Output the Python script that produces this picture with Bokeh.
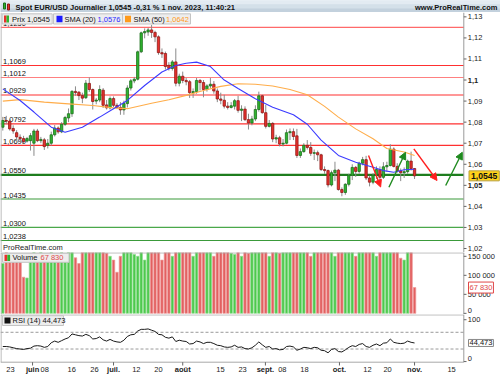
from bokeh.plotting import figure
from bokeh.layouts import column
from bokeh.models import Range1d, Span, Label, BoxAnnotation, Arrow, NormalHead, ColumnDataSource
from bokeh.embed import file_html
from bokeh.resources import INLINE

FONT = "Liberation Sans"
FS = "7.5px"

# ---------------- data (daily, 18 May 2023 -> 1 Nov 2023, weekdays) ----------------
opens = [1.0776, 1.0808, 1.0805, 1.0770, 1.0750, 1.0728, 1.0722, 1.0710, 1.0712, 1.0700,
         1.0758, 1.0712, 1.0716, 1.0690, 1.0700, 1.0740, 1.0772, 1.0754, 1.0790, 1.0820,
         1.0840, 1.0946, 1.0942, 1.0926, 1.0916, 1.0984, 1.0955, 1.0900, 1.0905, 1.0952,
         1.0882, 1.0868, 1.0912, 1.0880, 1.0870, 1.0858, 1.0888, 1.0962, 1.0996, 1.1004,
         1.1134, 1.1224, 1.1228, 1.1238, 1.1226, 1.1205, 1.1130, 1.1126, 1.1070, 1.1055,
         1.1086, 1.0985, 1.1018, 1.0998, 1.0992, 1.0940, 1.0945, 1.0998, 1.0988, 1.0955,
         1.0972, 1.0980, 1.0948, 1.0910, 1.0904, 1.0876, 1.0870, 1.0876, 1.0902, 1.0856,
         1.0862, 1.0812, 1.0796, 1.0815, 1.0860, 1.0925, 1.0845, 1.0780, 1.0794, 1.0720,
         1.0726, 1.0696, 1.0700, 1.0750, 1.0755, 1.0735, 1.0642, 1.0660, 1.0690, 1.0680,
         1.0652, 1.0655, 1.0645, 1.0575, 1.0570, 1.0502, 1.0560, 1.0572, 1.0480, 1.0466,
         1.0505, 1.0548, 1.0585, 1.0566, 1.0605, 1.0622, 1.0535, 1.0515, 1.0548, 1.0575,
         1.0538, 1.0588, 1.0594, 1.0672, 1.0590, 1.0568, 1.0560, 1.0565, 1.0615, 1.0580]
highs = [1.0825, 1.0830, 1.0815, 1.0785, 1.0762, 1.0742, 1.0735, 1.0730, 1.0748, 1.0768,
         1.0768, 1.0730, 1.0725, 1.0720, 1.0755, 1.0786, 1.0780, 1.0800, 1.0830, 1.0865,
         1.0952, 1.0970, 1.0948, 1.0940, 1.1000, 1.1012, 1.0960, 1.0915, 1.0975, 1.0962,
         1.0905, 1.0922, 1.0922, 1.0890, 1.0895, 1.0902, 1.0975, 1.1005, 1.1015, 1.1140,
         1.1230, 1.1245, 1.1248, 1.1262, 1.1234, 1.1212, 1.1150, 1.1135, 1.1085, 1.1095,
         1.1150, 1.1030, 1.1040, 1.1010, 1.1000, 1.0960, 1.1010, 1.1005, 1.1000, 1.0980,
         1.1010, 1.0995, 1.0960, 1.0940, 1.0930, 1.0895, 1.0895, 1.0910, 1.0925, 1.0880,
         1.0875, 1.0840, 1.0830, 1.0880, 1.0945, 1.0930, 1.0882, 1.0810, 1.0800, 1.0740,
         1.0735, 1.0720, 1.0765, 1.0770, 1.0770, 1.0768, 1.0675, 1.0700, 1.0715, 1.0705,
         1.0670, 1.0665, 1.0650, 1.0590, 1.0575, 1.0570, 1.0612, 1.0578, 1.0490, 1.0510,
         1.0555, 1.0600, 1.0592, 1.0612, 1.0635, 1.0640, 1.0545, 1.0558, 1.0590, 1.0590,
         1.0610, 1.0612, 1.0695, 1.0680, 1.0605, 1.0580, 1.0585, 1.0622, 1.0660, 1.0582]
lows = [1.0760, 1.0790, 1.0760, 1.0745, 1.0715, 1.0708, 1.0700, 1.0703, 1.0665, 1.0640,
        1.0705, 1.0700, 1.0668, 1.0675, 1.0688, 1.0732, 1.0745, 1.0748, 1.0782, 1.0800,
        1.0825, 1.0925, 1.0905, 1.0890, 1.0910, 1.0944, 1.0860, 1.0885, 1.0895, 1.0868,
        1.0860, 1.0860, 1.0872, 1.0862, 1.0835, 1.0835, 1.0870, 1.0950, 1.0985, 1.0998,
        1.1128, 1.1198, 1.1210, 1.1200, 1.1180, 1.1120, 1.1105, 1.1050, 1.1045, 1.1045,
        1.0970, 1.0970, 1.0985, 1.0975, 1.0915, 1.0915, 1.0935, 1.0950, 1.0918, 1.0945,
        1.0960, 1.0935, 1.0895, 1.0885, 1.0865, 1.0860, 1.0865, 1.0860, 1.0845, 1.0805,
        1.0805, 1.0765, 1.0785, 1.0805, 1.0850, 1.0840, 1.0770, 1.0775, 1.0705, 1.0700,
        1.0685, 1.0685, 1.0695, 1.0715, 1.0715, 1.0630, 1.0630, 1.0655, 1.0670, 1.0640,
        1.0620, 1.0615, 1.0568, 1.0555, 1.0490, 1.0495, 1.0520, 1.0475, 1.0448, 1.0455,
        1.0495, 1.0525, 1.0540, 1.0555, 1.0595, 1.0525, 1.0495, 1.0505, 1.0530, 1.0525,
        1.0530, 1.0565, 1.0590, 1.0585, 1.0560, 1.0520, 1.0535, 1.0555, 1.0570, 1.0530]
closes = [1.0808, 1.0805, 1.0768, 1.0758, 1.0730, 1.0722, 1.0708, 1.0722, 1.0736, 1.0758,
          1.0712, 1.0718, 1.0684, 1.0700, 1.0740, 1.0772, 1.0754, 1.0790, 1.0822, 1.0840,
          1.0946, 1.0940, 1.0926, 1.0914, 1.0985, 1.0955, 1.0898, 1.0905, 1.0955, 1.0880,
          1.0868, 1.0912, 1.0880, 1.0870, 1.0858, 1.0888, 1.0962, 1.0996, 1.1004, 1.1134,
          1.1224, 1.1230, 1.1238, 1.1226, 1.1205, 1.1130, 1.1124, 1.1064, 1.1055, 1.1086,
          1.0985, 1.1018, 1.0998, 1.0992, 1.0940, 1.0945, 1.0998, 1.0988, 1.0955, 1.0972,
          1.0980, 1.0948, 1.0910, 1.0904, 1.0876, 1.0870, 1.0878, 1.0902, 1.0856, 1.0862,
          1.0812, 1.0796, 1.0815, 1.0860, 1.0925, 1.0845, 1.0780, 1.0794, 1.0720, 1.0726,
          1.0696, 1.0700, 1.0750, 1.0755, 1.0732, 1.0642, 1.0660, 1.0690, 1.0680, 1.0652,
          1.0655, 1.0645, 1.0575, 1.0570, 1.0502, 1.0560, 1.0572, 1.0480, 1.0466, 1.0505,
          1.0548, 1.0585, 1.0566, 1.0605, 1.0622, 1.0535, 1.0515, 1.0548, 1.0575, 1.0538,
          1.0588, 1.0594, 1.0672, 1.0590, 1.0568, 1.0560, 1.0565, 1.0615, 1.0580, 1.0545]
volumes = [131000, 165000, 150000, 147000, 145000, 150000, 95000, 93000, 150000, 165000,
           150000, 160000, 145000, 150000, 165000, 145000, 150000, 165000, 150000, 160000,
           165000, 146000, 131000, 165000, 165000, 160000, 165000, 163000, 163000, 163000,
           158000, 150000, 140000, 108000, 150000, 165000, 160000, 160000, 155000, 150000,
           165000, 140000, 160000, 165000, 165000, 160000, 140000, 165000, 165000, 150000,
           165000, 165000, 165000, 165000, 160000, 150000, 165000, 165000, 160000, 165000,
           165000, 150000, 165000, 160000, 165000, 165000, 158000, 155000, 165000, 150000,
           165000, 158000, 165000, 165000, 165000, 165000, 160000, 150000, 165000, 165000,
           158000, 165000, 165000, 160000, 165000, 165000, 160000, 165000, 165000, 150000,
           165000, 165000, 165000, 160000, 165000, 165000, 150000, 165000, 165000, 165000,
           165000, 160000, 150000, 165000, 165000, 165000, 160000, 165000, 150000, 165000,
           165000, 160000, 165000, 165000, 165000, 145000, 140000, 165000, 165000, 67830]
rsi = [36, 36, 35, 33, 31, 30, 29, 31, 32, 37, 38, 37, 34, 36, 45, 49, 46, 50, 54, 57,
       66, 64, 62, 61, 65, 62, 54, 55, 59, 52, 49, 53, 49, 47, 46, 51, 60, 64, 65, 73,
       77, 77, 78, 75, 72, 65, 64, 58, 56, 59, 48, 51, 49, 48, 42, 43, 49, 47, 43, 46,
       46, 43, 39, 38, 35, 34, 35, 39, 34, 35, 31, 30, 33, 39, 47, 40, 34, 36, 30, 31,
       28, 29, 36, 37, 35, 27, 30, 34, 33, 31, 34, 33, 27, 26, 21, 29, 31, 24, 23, 28,
       34, 38, 36, 41, 43, 36, 34, 39, 42, 38, 44, 45, 54, 46, 44, 43, 44, 49, 46, 44.473]

sma20_idx = [0, 5, 9, 14, 18, 23, 28, 32, 36, 41, 46, 50, 53, 56, 60, 64, 68, 73, 78, 84,
             88, 92, 97, 102, 107, 110, 113, 116, 119]
sma20_val = [1.0958, 1.0903, 1.0848, 1.0776, 1.0752, 1.0776, 1.0824, 1.0864, 1.0903, 1.0974,
             1.1038, 1.1069, 1.1080, 1.1085, 1.1064, 1.1000, 1.0960, 1.0911, 1.0871, 1.0835,
             1.0790, 1.0715, 1.0642, 1.0610, 1.0586, 1.0570, 1.0562, 1.0574, 1.0576]
sma50_idx = [0, 5, 12, 19, 26, 32, 36, 43, 48, 53, 58, 63, 68, 73, 78, 83, 88, 93, 97,
             102, 107, 111, 116, 119]
sma50_val = [1.0900, 1.0907, 1.0895, 1.0887, 1.0879, 1.0868, 1.0864, 1.0890, 1.0906, 1.0927,
             1.0950, 1.0970, 1.0982, 1.0980, 1.0972, 1.0955, 1.0930, 1.0875, 1.0824, 1.0768,
             1.0721, 1.0675, 1.0658, 1.0642]

red_levels = [1.1250, 1.1069, 1.1012, 1.0929, 1.0792, 1.0690]
red_level_labels = ["1,1250", "1,1069", "1,1012", "1,0929", "1,0792", "1,0690"]
green_levels = [1.0550, 1.0435, 1.0300, 1.0238]
green_level_labels = ["1,0550", "1,0435", "1,0300", "1,0238"]

# drawn trend arrows (index, price)
arrow_x0 = [105.7, 111.6, 118.8, 128.0]
arrow_y0 = [1.0642, 1.0491, 1.0673, 1.0499]
arrow_x1 = [109.2, 116.4, 125.5, 132.8]
arrow_y1 = [1.0492, 1.0657, 1.0523, 1.0657]
arrow_up = [False, True, False, True]

price_ticks = [1.02, 1.03, 1.04, 1.05, 1.06, 1.07, 1.08, 1.09, 1.10, 1.11, 1.12, 1.13]
price_tick_labels = ["1,02", "1,03", "1,04", "1,05", "1,06", "1,07", "1,08", "1,09", "1,1", "1,11", "1,12", "1,13"]
price_bold_ticks = [1.05, 1.10]
vol_ticks = [0, 50000, 100000, 150000]
vol_tick_labels = ["0", "50 000", "100 000", "150 000"]
rsi_ticks = [0, 100]
rsi_tick_labels = ["0", "100"]

date_tick_pos = [2.2, 8.6, 12.1, 19.9, 26.5, 32.0, 38.6, 45.0, 52.0, 62.9, 69.3, 75.9, 80.8,
                 87.2, 97.3, 105.4, 111.2, 119.0, 129.7]
date_tick_labels = ["23", "juin", "08", "16", "26", "juil.", "12", "20", "août", "15", "23",
                    "sept.", "08", "18", "oct.", "12", "20", "nov.", "15"]
MONTHS = {"juin", "juil.", "août", "sept.", "oct.", "nov."}

title_text = "Spot EUR/USD Journalier 1,0545 -0,31 % 1 nov. 2023, 11:40:21"
last_price = "1,0545"
sma20_last = "1,0576"
sma50_last = "1,0642"
vol_last = 67830
vol_last_text = "67 830"
rsi_last = 44.473
rsi_last_text = "44,473"

# ---------------- helpers (reference pixel -> data) ----------------
def xd(px):
    return (px - 2.3) / 3.46

def pdy(py):
    return 1.055 + (174.3 - py) / 2106.0

def vdy(py):
    return 160000 - (py - 252) / 62.0 * 163000

def rdy(py):
    return 112.5 - (py - 314) / 47.7 * 114

GREEN = "#2fb52f"
GREEN_D = "#1c6f1c"
RED = "#e8302c"
RED_D = "#8f1a18"
AXIS_C = "#9a9a9a"
SEP_C = "#a8a8a8"
LAB_C = "#222222"

X_AX = xd(463.3)      # right axis position (data)
X_LAB = xd(467.3)     # axis labels
xr = Range1d(xd(0), xd(500))


def base_fig(fh, yr):
    f = figure(width=500, height=fh, x_range=xr, y_range=yr,
               x_axis_location=None, y_axis_location=None,
               toolbar_location=None, output_backend="svg", min_border=0,
               background_fill_color="white", border_fill_color="white", outline_line_color=None)
    f.grid.visible = False
    return f


def text(fig, x, y, t, color="#111111", bold=False, size=FS, align="left", baseline="middle", **kw):
    fig.add_layout(Label(x=x, y=y, text=t, text_color=color, text_font=FONT, text_font_size=size,
                         text_font_style="bold" if bold else "normal", text_align=align,
                         text_baseline=baseline, **kw))


def box(fig, l, r, t, b, fill, line=None, level="annotation"):
    fig.add_layout(BoxAnnotation(left=l, right=r, top=t, bottom=b, fill_color=fill, fill_alpha=1.0,
                                 line_color=line, line_alpha=1.0 if line else 0.0, line_width=1,
                                 level=level))


def right_axis(fig, y0, y1, ticks, labels, label_pos=None, bold=()):
    fig.segment(x0=[X_AX], y0=[y0], x1=[X_AX], y1=[y1], line_color=AXIS_C, line_width=1)
    fig.segment(x0=[X_AX] * len(ticks), y0=ticks, x1=[xd(466)] * len(ticks), y1=ticks,
                line_color="#666666", line_width=1)
    pos = label_pos if label_pos else ticks
    for t, p, l in zip(ticks, pos, labels):
        text(fig, X_LAB, p, l, color=LAB_C, bold=t in bold)

# ---------------- title bar ----------------
tf = figure(width=500, height=12, x_range=Range1d(0, 500), y_range=Range1d(12, 0),
            toolbar_location=None, output_backend="svg", x_axis_location=None, y_axis_location=None,
            min_border=0, outline_line_color=None, background_fill_color="#d3dfe9",
            border_fill_color="#d3dfe9")
tf.grid.visible = False
box(tf, 0, 500, 0, 4, "#e3ebf2")
box(tf, 0, 500, 4, 8, "#d4e0e9")
box(tf, 0, 500, 8, 12, "#c3d1dd")
box(tf, 3.0, 5.0, 2.5, 8.5, GREEN, GREEN_D)
box(tf, 7.0, 9.0, 3.5, 9.5, RED, RED_D)
text(tf, 15, 6.5, title_text, bold=True)
text(tf, 497, 6.5, "www.ProRealTime.com", bold=True, align="right")

# ---------------- price panel ----------------
pf = base_fig(240, Range1d(pdy(252), pdy(12)))

red_cols = ["#ff6a6a", "#ff3030", "#ff8080", "#ff3030", "#ff3030", "#ff3030"]
for lv, lb, c in zip(red_levels, red_level_labels, red_cols):
    pf.segment(x0=[xd(0)], y0=[lv], x1=[X_AX], y1=[lv], line_color=c, line_width=1.2, level="underlay")
    text(pf, xd(2.5), lv, lb, baseline="bottom", y_offset=1.5, level="underlay")
green_cols = ["#1e7d1e", "#3a9a3a", "#4aa84a", "#3a9a3a"]
green_w = [2.2, 1.2, 1.2, 1.2]
for lv, lb, c, w in zip(green_levels, green_level_labels, green_cols, green_w):
    pf.segment(x0=[xd(0)], y0=[lv], x1=[X_AX], y1=[lv], line_color=c, line_width=w, level="underlay")
    text(pf, xd(2.5), lv, lb, baseline="bottom", y_offset=1.5 + (w - 1.2) / 2, level="underlay")

idx = list(range(len(opens)))
up = [c >= o for o, c in zip(opens, closes)]
src = ColumnDataSource(dict(
    x=idx, h=highs, l=lows,
    top=[max(o, c) for o, c in zip(opens, closes)],
    bot=[min(o, c) for o, c in zip(opens, closes)],
    fill=[GREEN if u else RED for u in up],
    line=[GREEN_D if u else RED_D for u in up],
    vol=volumes,
    vfill=["#4cc94c" if u else "#e26060" for u in up],
    vline=["#8fdc8f" if u else "#ee9a9a" for u in up],
))
pf.segment(x0="x", y0="l", x1="x", y1="h", source=src, line_color="#8a8a8a", line_width=1)
pf.vbar(x="x", top="top", bottom="bot", width=0.68, source=src, fill_color="fill",
        line_color="line", line_width=0.8)
pf.line(sma50_idx, sma50_val, line_color="#ffad4a", line_width=1.1)
pf.line(sma20_idx, sma20_val, line_color="#3b3bff", line_width=1.1)

for x0, y0, x1, y1, u in zip(arrow_x0, arrow_y0, arrow_x1, arrow_y1, arrow_up):
    c = "#1f8a1f" if u else "#ff1f1f"
    pf.add_layout(Arrow(end=NormalHead(size=7, fill_color=c, line_color=c), x_start=x0, y_start=y0,
                        x_end=x1, y_end=y1, line_color=c, line_width=1.4))

pf.add_layout(Span(location=xd(0.5), dimension="height", line_color=SEP_C, line_width=1))
right_axis(pf, pdy(252), pdy(12), price_ticks, price_tick_labels, bold=price_bold_ticks)

# legend row
box(pf, xd(1.7), xd(51.7), pdy(13.3), pdy(23.5), "#ededed", "#c4c4c4")
box(pf, xd(3.5), xd(6.0), pdy(15.0), pdy(22.0), RED)
box(pf, xd(6.0), xd(8.5), pdy(15.0), pdy(22.0), GREEN)
text(pf, xd(11.5), pdy(18.6), "Prix " + last_price)
box(pf, xd(53.0), xd(122.0), pdy(13.3), pdy(23.5), "#ededed", "#c4c4c4")
box(pf, xd(56.0), xd(62.0), pdy(15.3), pdy(21.7), "#1a1aff")
text(pf, xd(64.0), pdy(18.6), "SMA (20) ")
text(pf, xd(97.0), pdy(18.6), sma20_last, color="#2a2aff")
box(pf, xd(122.0), xd(190.0), pdy(13.3), pdy(23.5), "#ededed", "#c4c4c4")
box(pf, xd(124.5), xd(130.5), pdy(15.3), pdy(21.7), "#ff9a1a")
text(pf, xd(133.0), pdy(18.6), "SMA (50) ")
text(pf, xd(165.5), pdy(18.6), sma50_last, color="#ff9a1a")
text(pf, xd(2.5), pdy(246.5), "ProRealTime.com", color=LAB_C)
text(pf, xd(468.5), closes[-1], last_price, bold=True, size="8.6px",
     background_fill_color="#ffd21a", border_line_color="#b8a040", padding=2)

# ---------------- volume panel ----------------
vf = base_fig(62, Range1d(-3000, 160000))
vf.vbar(x="x", top="vol", bottom=0, width=0.72, source=src, fill_color="vfill", line_color="vline",
        line_width=0.7)
vf.segment(x0=[xd(0)], y0=[vdy(252.4)], x1=[X_AX], y1=[vdy(252.4)], line_color=SEP_C, line_width=1)
vf.add_layout(Span(location=xd(0.5), dimension="height", line_color=SEP_C, line_width=1))
right_axis(vf, vdy(314), vdy(252), vol_ticks, vol_tick_labels,
           label_pos=[vdy(309.5), 50000, 100000, 150000])
box(vf, xd(2.0), xd(68.5), vdy(252.8), vdy(261.8), "#ededed", "#c4c4c4")
box(vf, xd(4.0), xd(6.8), vdy(254.2), vdy(260.5), RED)
box(vf, xd(6.8), xd(9.6), vdy(254.2), vdy(260.5), GREEN)
text(vf, xd(12.0), vdy(257.3), "Volume ")
text(vf, xd(40.0), vdy(257.3), vol_last_text, color="#e04848")
text(vf, xd(468.0), vol_last, vol_last_text, color="#e04848",
     background_fill_color="white", border_line_color="#e04848", padding=1)

# ---------------- RSI panel (with date band) ----------------
rf = base_fig(61, Range1d(rdy(375), rdy(314)))
for lv in (70, 30):
    rf.segment(x0=[xd(0)], y0=[lv], x1=[X_AX], y1=[lv], line_color="#9a9a9a", line_width=1,
               line_dash="3 2", level="underlay")
rf.line(idx, rsi, line_color="#1a1a1a", line_width=1)
rf.segment(x0=[xd(0)], y0=[rdy(314.4)], x1=[X_AX], y1=[rdy(314.4)], line_color=SEP_C, line_width=1)
rf.segment(x0=[xd(0)], y0=[rdy(361.7)], x1=[X_AX], y1=[rdy(361.7)], line_color=SEP_C, line_width=1)
rf.segment(x0=[xd(0.5)], y0=[rdy(314)], x1=[xd(0.5)], y1=[rdy(361.7)], line_color=SEP_C, line_width=1)
right_axis(rf, rdy(361.7), rdy(314), rsi_ticks, rsi_tick_labels, label_pos=[rdy(358.3), 100])
box(rf, xd(2.0), xd(63.0), rdy(315.2), rdy(325.0), "#ededed", "#c4c4c4")
box(rf, xd(4.0), xd(10.0), rdy(317.0), rdy(323.0), "#111111")
text(rf, xd(12.0), rdy(320.1), "RSI (14) " + rsi_last_text)
text(rf, xd(468.0), rsi_last, rsi_last_text, color="#111111",
     background_fill_color="white", border_line_color="#888888", padding=1)

month_pos = [p for p, l in zip(date_tick_pos, date_tick_labels) if l in MONTHS]
rf.segment(x0=month_pos, y0=[rdy(361.7)] * len(month_pos), x1=month_pos,
           y1=[rdy(365.0)] * len(month_pos), line_color="#666666", line_width=1)
for pos, lab in zip(date_tick_pos, date_tick_labels):
    text(rf, pos, rdy(369.0), lab, color=LAB_C, bold=lab in MONTHS, align="center")

layout = column(tf, pf, vf, rf, spacing=0)
open("out.html", "w").write(file_html(layout, INLINE))
